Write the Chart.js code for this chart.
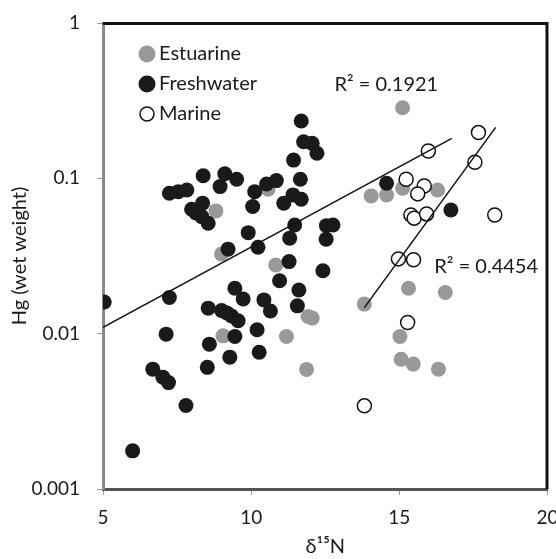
<!DOCTYPE html>
<html>
<head>
<meta charset="utf-8">
<script src="https://cdn.jsdelivr.net/npm/chart.js@4.4.1/dist/chart.umd.min.js"></script>
<style>
  html, body { margin: 0; padding: 0; background: #fff; }
  #wrap { width: 556px; height: 559px; }
</style>
</head>
<body>
<div id="wrap"><canvas id="hgChart"></canvas></div>
<script>
// d15N (x) and Hg wet weight (y)
const estuarineX = [15.11, 14.05, 14.57, 15.11, 16.29, 15.31, 16.55, 13.82, 15.02, 15.06, 15.47, 16.32,
                    11.87, 11.19, 11.92, 12.06, 9.05, 10.83, 9.00, 8.81, 10.57];
const estuarineY = [0.285, 0.0771, 0.0782, 0.0863, 0.0842, 0.0196, 0.0184, 0.0155, 0.00958, 0.00685, 0.00637, 0.00591,
                    0.00589, 0.00958, 0.0129, 0.0126, 0.00968, 0.0277, 0.0326, 0.0617, 0.0851];

const freshwaterX = [11.69, 11.77, 12.06, 12.22, 11.43, 11.66, 11.41, 11.69, 11.10, 8.38, 9.11, 8.95, 9.51,
                     7.24, 7.54, 7.83, 10.12, 10.52, 10.85, 10.05, 7.99, 8.36, 8.33, 8.55, 8.14, 9.90,
                     11.47, 11.30, 12.76, 12.54, 12.53, 9.22, 10.23, 11.28, 12.42, 5.04, 7.24, 9.45, 9.73,
                     10.96, 11.61, 10.43, 10.65, 11.56, 8.55, 9.00, 9.18, 9.34, 9.56, 10.20, 9.45, 7.13,
                     8.59, 10.27, 9.28, 8.52, 6.68, 7.02, 7.21, 7.80, 6.00, 14.57, 16.74];
const freshwaterY = [0.234, 0.172, 0.168, 0.145, 0.131, 0.0987, 0.0782, 0.0734, 0.0692, 0.104, 0.107, 0.0885, 0.0987,
                     0.0802, 0.0821, 0.0842, 0.0821, 0.0920, 0.0967, 0.0658, 0.0633, 0.0692, 0.0567, 0.0514, 0.0599, 0.0447,
                     0.0501, 0.0412, 0.0501, 0.0496, 0.0406, 0.0350, 0.0360, 0.0291, 0.0254, 0.0160, 0.0171, 0.0196, 0.0167,
                     0.0219, 0.0191, 0.0165, 0.0140, 0.0151, 0.0146, 0.0141, 0.0136, 0.0130, 0.0121, 0.0106, 0.00958, 0.00993,
                     0.00856, 0.00760, 0.00706, 0.00607, 0.00591, 0.00525, 0.00484, 0.00345, 0.00176, 0.0930, 0.0626];

const marineX = [17.67, 15.98, 17.55, 15.23, 15.84, 15.62, 18.22, 15.39, 15.50, 15.92, 14.97, 15.48, 15.28, 13.82];
const marineY = [0.197, 0.150, 0.127, 0.0987, 0.0893, 0.0794, 0.0581, 0.0581, 0.0554, 0.0590, 0.0303, 0.0299, 0.0118, 0.00343];

// exponential trend lines (straight on the log axis), end points
const freshTrendX = [5, 16.77];
const freshTrendY = [0.0110, 0.181];
const marineTrendX = [13.82, 18.25];
const marineTrendY = [0.0147, 0.213];

const xTicks = [5, 10, 15, 20];
const yTicks = [0.001, 0.01, 0.1, 1];
const r2Labels = [
    { text: 'R² = 0.1921', x: 12.81, y: 0.40 },
    { text: 'R² = 0.4454', x: 16.18, y: 0.0269 }
];

const FONT = 'Lato, "Open Sans", sans-serif';

function toPoints(xs, ys) {
    return xs.map((x, i) => ({ x: x, y: ys[i] }));
}

const framePlugin = {
    id: 'frame',
    afterDraw(chart) {
        const ctx = chart.ctx;
        const a = chart.chartArea;
        ctx.save();
        ctx.strokeStyle = '#111';
        ctx.lineWidth = 3;
        ctx.beginPath();
        ctx.moveTo(a.left, a.top + 0.5);
        ctx.lineTo(a.right - 0.5, a.top + 0.5);
        ctx.lineTo(a.right - 0.5, a.bottom);
        ctx.stroke();

        // R squared labels
        const xs = chart.scales.x, ys = chart.scales.y;
        ctx.fillStyle = '#1a1a1a';
        ctx.font = '20px ' + FONT;
        ctx.textBaseline = 'middle';
        ctx.textAlign = 'left';
        r2Labels.forEach(l => ctx.fillText(l.text, xs.getPixelForValue(l.x), ys.getPixelForValue(l.y)));

        // legend inside the plot
        let ly = a.top + 31;
        chart.data.datasets.filter(d => d.showLine !== true).forEach(d => {
            ctx.beginPath();
            ctx.arc(a.left + 44, ly, 7, 0, Math.PI * 2);
            ctx.fillStyle = d.backgroundColor;
            ctx.fill();
            ctx.lineWidth = d.borderWidth;
            ctx.strokeStyle = d.borderColor;
            ctx.stroke();
            ctx.fillStyle = '#1a1a1a';
            ctx.fillText(d.label, a.left + 56, ly);
            ly += 30;
        });
        ctx.restore();
    }
};

const ctx = document.getElementById('hgChart').getContext('2d');
new Chart(ctx, {
    type: 'scatter',
    data: {
        datasets: [{
            label: 'Estuarine',
            data: toPoints(estuarineX, estuarineY),
            backgroundColor: '#999999',
            borderColor: '#999999',
            borderWidth: 0,
            pointRadius: 7.5,
            order: 5
        }, {
            label: 'Freshwater',
            data: toPoints(freshwaterX, freshwaterY),
            backgroundColor: '#1a1a1a',
            borderColor: '#1a1a1a',
            borderWidth: 0,
            pointRadius: 7.5,
            order: 4
        }, {
            label: 'Marine',
            data: toPoints(marineX, marineY),
            backgroundColor: '#ffffff',
            borderColor: '#111111',
            borderWidth: 1.5,
            pointRadius: 7,
            order: 3
        }, {
            label: 'trend freshwater',
            data: toPoints(freshTrendX, freshTrendY),
            showLine: true,
            borderColor: '#111',
            borderWidth: 1.5,
            pointRadius: 0,
            order: 1
        }, {
            label: 'trend marine',
            data: toPoints(marineTrendX, marineTrendY),
            showLine: true,
            borderColor: '#111',
            borderWidth: 1.5,
            pointRadius: 0,
            order: 1
        }]
    },
    options: {
        responsive: true,
        maintainAspectRatio: false,
        animation: false,
        layout: { padding: { top: 23, right: 7, left: 0, bottom: 0 } },
        plugins: {
            legend: { display: false },
            tooltip: { enabled: false }
        },
        scales: {
            x: {
                type: 'linear',
                min: 5,
                max: 20,
                afterBuildTicks: s => { s.ticks = xTicks.map(v => ({ value: v })); },
                afterFit: s => { s.height = 70; s.paddingLeft = 0; s.paddingRight = 0; },
                ticks: { color: '#1a1a1a', font: { family: FONT, size: 19 }, padding: 11, maxRotation: 0 },
                grid: { drawOnChartArea: false, tickLength: 6, color: '#999' },
                border: { color: '#555', width: 3 },
                title: {
                    display: true,
                    text: 'δ¹⁵N',
                    color: '#1a1a1a',
                    font: { family: FONT, size: 20 },
                    padding: { top: 0, bottom: 0 }
                }
            },
            y: {
                type: 'logarithmic',
                min: 0.001,
                max: 1,
                afterBuildTicks: s => { s.ticks = yTicks.map(v => ({ value: v })); },
                afterFit: s => { s.width = 103; s.paddingTop = 0; s.paddingBottom = 0; },
                ticks: {
                    color: '#1a1a1a',
                    font: { family: FONT, size: 19 },
                    padding: 17,
                    callback: v => String(v)
                },
                grid: { drawOnChartArea: false, tickLength: 6, color: '#999' },
                border: { color: '#8a8a8a', width: 3 },
                title: {
                    display: true,
                    text: 'Hg (wet weight)',
                    color: '#1a1a1a',
                    font: { family: FONT, size: 20 },
                    padding: { top: 8, bottom: 0 }
                }
            }
        }
    },
    plugins: [framePlugin]
});
</script>
</body>
</html>
